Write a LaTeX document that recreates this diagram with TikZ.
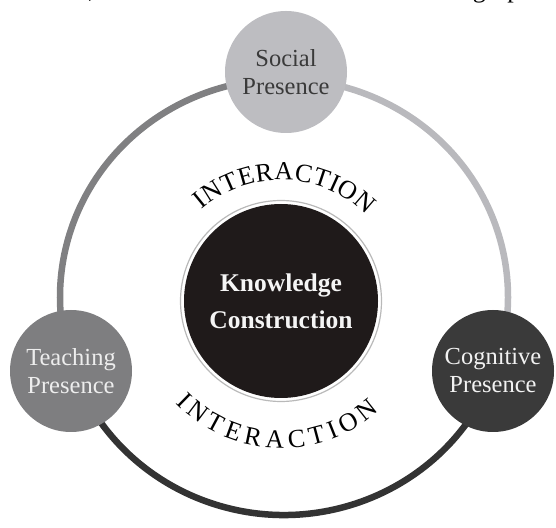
\documentclass[tikz,border=0pt]{standalone}
\usepackage{fontspec}
\setmainfont{Liberation Serif}
\usepackage{xcolor}
\usetikzlibrary{decorations.text}

\definecolor{socialgray}{HTML}{BDBDC1}
\definecolor{socialtext}{HTML}{3A3A3A}
\definecolor{teachgray}{HTML}{7E7E80}
\definecolor{cognigray}{HTML}{3A3A3A}
\definecolor{coreblack}{HTML}{1F1A1A}
\definecolor{ringlight}{HTML}{B9B9BD}
\definecolor{ringmid}{HTML}{808082}
\definecolor{ringdark}{HTML}{333333}

\newcommand{\arcfont}{\fontsize{26}{26}\selectfont}

\begin{document}
\begin{tikzpicture}[x=1pt, y=1pt, line cap=round, line join=round,
  presence/.style={circle, minimum size=122pt, inner sep=0pt, align=center,
    font=\fontsize{24.5}{28}\selectfont},
  ringpart/.style={line width=6.5pt}]

\useasboundingbox (0,0) rectangle (556,527);

% --- ring parameters (slightly wider than tall) ---
\def\rx{224}
\def\ry{218}
\coordinate (ring) at (284,230);

% ------------------ outer ring, one grey per stretch ------------------
\draw[ringpart, draw=ringlight]
  (ring) ++(90:\rx pt and \ry pt) arc[start angle=90, end angle=-21, x radius=\rx pt, y radius=\ry pt];
\draw[ringpart, draw=ringdark]
  (ring) ++(-21:\rx pt and \ry pt) arc[start angle=-21, end angle=-162, x radius=\rx pt, y radius=\ry pt];
\draw[ringpart, draw=ringmid]
  (ring) ++(198:\rx pt and \ry pt) arc[start angle=198, end angle=90, x radius=\rx pt, y radius=\ry pt];

% ------------------ the three presences ------------------
\node[presence, fill=socialgray, text=socialtext] (social) at (286,455) {Social\\Presence};
\node[presence, fill=teachgray, text=white!93!black] (teaching) at (71,156) {Teaching\\Presence};
\node[presence, fill=cognigray, text=white!95!black] (cognitive) at (493,156) {Cognitive\\Presence};

% ------------------ centre ------------------
\node[circle, fill=coreblack, minimum size=194pt, inner sep=0pt, align=center,
  text=white!96!black, font=\bfseries\fontsize{25.5}{37}\selectfont] (core) at (281,226)
  {Knowledge\\Construction};
\draw[gray!55, line width=1.2pt] (core.center) circle[radius=100.5pt];

% INTERACTION above and below the centre
\path[decorate, decoration={text along path, text align={fit to path},
    text={|\arcfont|INTERACTION}}]
  (core.center) ++(131:121pt) arc[start angle=131, end angle=45, radius=121pt];
\path[decorate, decoration={text along path, text align={fit to path},
    text={|\arcfont|INTERACTION}}]
  (core.center) ++(224:147pt) arc[start angle=224, end angle=312, radius=147pt];

% running text cut off at the top edge
\begin{scope}
  \clip (0,0) rectangle (556,527);
  \node[anchor=base west, inner sep=0pt, font=\fontsize{26}{26}\selectfont] (runin) at (-3,529)
    {\makebox[565pt][s]{attention, was attributed to the teaching prese}};
\end{scope}

\end{tikzpicture}
\end{document}
